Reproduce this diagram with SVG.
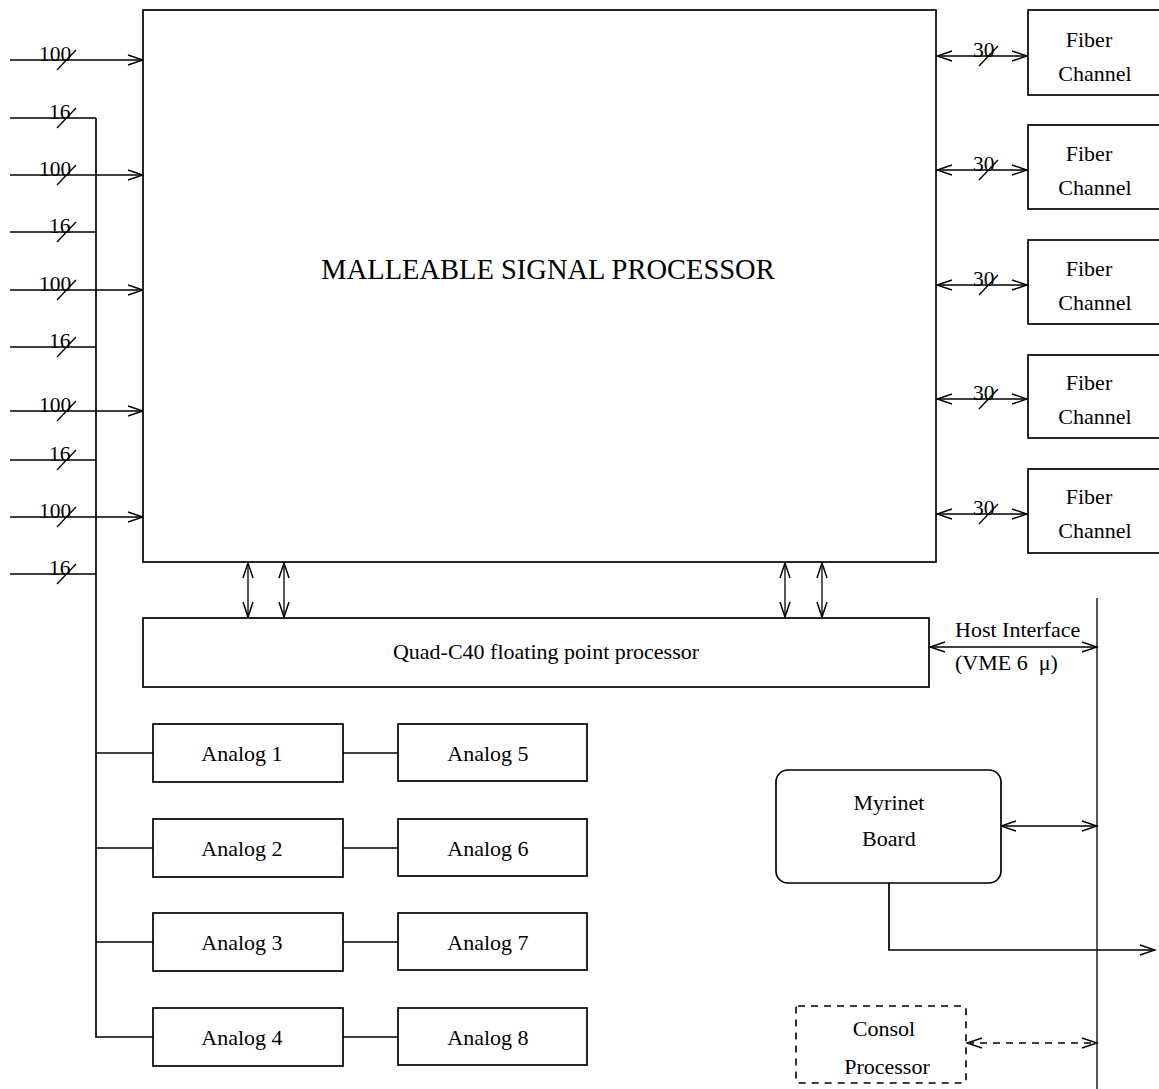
<svg xmlns="http://www.w3.org/2000/svg" width="1159" height="1089" viewBox="0 0 1159 1089">
  <style>
    .box { fill: #fff; stroke: #000; stroke-width: 1.7; }
    .dash { fill: none; stroke: #000; stroke-width: 1.6; stroke-dasharray: 7 6; }
    .ln { fill: none; stroke: #000; stroke-width: 1.7; }
    .thin { fill: none; stroke: #000; stroke-width: 1.3; }
    .t { font-family: "Liberation Serif", "Times New Roman", serif; fill: #000; }
    .lbl { font-size: 22px; }
    .num { font-size: 21.5px; }
    .mid { text-anchor: middle; }
  </style>
  <defs>
    <marker id="ah" markerUnits="userSpaceOnUse" markerWidth="18" markerHeight="12" viewBox="0 0 18 12" refX="16" refY="6" orient="auto-start-reverse">
      <path d="M1,1 L16,6 L1,11" fill="none" stroke="#000" stroke-width="1.5"/>
    </marker>
  </defs>

  <!-- connectors -->
  <g id="connectors">
    <!-- 100-bit inputs into the processor -->
    <line class="ln" x1="10" y1="60" x2="143" y2="60" marker-end="url(#ah)"/>
    <line class="ln" x1="10" y1="175" x2="143" y2="175" marker-end="url(#ah)"/>
    <line class="ln" x1="10" y1="290" x2="143" y2="290" marker-end="url(#ah)"/>
    <line class="ln" x1="10" y1="411" x2="143" y2="411" marker-end="url(#ah)"/>
    <line class="ln" x1="10" y1="517" x2="143" y2="517" marker-end="url(#ah)"/>
    <!-- 16-bit lines feeding the analog bus -->
    <line class="ln" x1="10" y1="118" x2="96" y2="118"/>
    <line class="ln" x1="10" y1="232" x2="96" y2="232"/>
    <line class="ln" x1="10" y1="347" x2="96" y2="347"/>
    <line class="ln" x1="10" y1="460" x2="96" y2="460"/>
    <line class="ln" x1="10" y1="574" x2="96" y2="574"/>
    <!-- analog bus -->
    <polyline class="ln" points="96,118 96,1037 153,1037"/>
    <line class="ln" x1="96" y1="753" x2="153" y2="753"/>
    <line class="ln" x1="96" y1="848" x2="153" y2="848"/>
    <line class="ln" x1="96" y1="942" x2="153" y2="942"/>
    <!-- analog pairs -->
    <line class="ln" x1="343" y1="753" x2="398" y2="753"/>
    <line class="ln" x1="343" y1="848" x2="398" y2="848"/>
    <line class="ln" x1="343" y1="942" x2="398" y2="942"/>
    <line class="ln" x1="343" y1="1037" x2="398" y2="1037"/>
    <!-- bus width ticks -->
    <g class="thin">
      <line x1="57" y1="70" x2="76" y2="50"/>
      <line x1="57" y1="185" x2="76" y2="165"/>
      <line x1="57" y1="300" x2="76" y2="280"/>
      <line x1="57" y1="421" x2="76" y2="401"/>
      <line x1="57" y1="527" x2="76" y2="507"/>
      <line x1="57" y1="128" x2="76" y2="108"/>
      <line x1="57" y1="242" x2="76" y2="222"/>
      <line x1="57" y1="357" x2="76" y2="337"/>
      <line x1="57" y1="470" x2="76" y2="450"/>
      <line x1="57" y1="584" x2="76" y2="564"/>
      <line x1="979" y1="66" x2="998" y2="46"/>
      <line x1="979" y1="180" x2="998" y2="160"/>
      <line x1="979" y1="295" x2="998" y2="275"/>
      <line x1="979" y1="409" x2="998" y2="389"/>
      <line x1="979" y1="524" x2="998" y2="504"/>
    </g>
    <g class="t num">
      <text x="39" y="61">100</text>
      <text x="39" y="176">100</text>
      <text x="39" y="291">100</text>
      <text x="39" y="412">100</text>
      <text x="39" y="518">100</text>
      <text x="49" y="119">16</text>
      <text x="49" y="233">16</text>
      <text x="49" y="348">16</text>
      <text x="49" y="461">16</text>
      <text x="49" y="575">16</text>
      <text x="973" y="57">30</text>
      <text x="973" y="171">30</text>
      <text x="973" y="286">30</text>
      <text x="973" y="400">30</text>
      <text x="973" y="515">30</text>
    </g>
    <!-- processor to fiber channels -->
    <line class="ln" x1="937" y1="56" x2="1027" y2="56" marker-start="url(#ah)" marker-end="url(#ah)"/>
    <line class="ln" x1="937" y1="170" x2="1027" y2="170" marker-start="url(#ah)" marker-end="url(#ah)"/>
    <line class="ln" x1="937" y1="285" x2="1027" y2="285" marker-start="url(#ah)" marker-end="url(#ah)"/>
    <line class="ln" x1="937" y1="399" x2="1027" y2="399" marker-start="url(#ah)" marker-end="url(#ah)"/>
    <line class="ln" x1="937" y1="514" x2="1027" y2="514" marker-start="url(#ah)" marker-end="url(#ah)"/>
    <!-- processor to Quad-C40 -->
    <line class="thin" x1="248" y1="563" x2="248" y2="617" marker-start="url(#ah)" marker-end="url(#ah)"/>
    <line class="thin" x1="284" y1="563" x2="284" y2="617" marker-start="url(#ah)" marker-end="url(#ah)"/>
    <line class="thin" x1="785" y1="563" x2="785" y2="617" marker-start="url(#ah)" marker-end="url(#ah)"/>
    <line class="thin" x1="822" y1="563" x2="822" y2="617" marker-start="url(#ah)" marker-end="url(#ah)"/>
    <!-- host bus -->
    <line class="thin" x1="1097" y1="598" x2="1097" y2="1089"/>
    <line class="ln" x1="930" y1="647" x2="1097" y2="647" marker-start="url(#ah)" marker-end="url(#ah)"/>
    <text class="t lbl" x="955" y="637">Host Interface</text>
    <text class="t lbl" x="955" y="670" xml:space="preserve">(VME 6  μ)</text>
    <line class="ln" x1="1001" y1="826" x2="1097" y2="826" marker-start="url(#ah)" marker-end="url(#ah)"/>
    <polyline class="ln" points="889,883 889,950 1155,950" marker-end="url(#ah)"/>
    <line class="dash" x1="967" y1="1043" x2="1097" y2="1043" marker-start="url(#ah)" marker-end="url(#ah)"/>
  </g>

  <!-- nodes -->
  <g id="msp">
    <rect class="box" x="143" y="10" width="793" height="552"/>
    <text class="t mid" x="548" y="279" font-size="28.5">MALLEABLE SIGNAL PROCESSOR</text>
  </g>
  <g id="fiber1">
    <rect class="box" x="1028" y="10" width="140" height="85"/>
    <text class="t lbl mid" x="1089" y="47">Fiber</text>
    <text class="t lbl mid" x="1095" y="81">Channel</text>
  </g>
  <g id="fiber2">
    <rect class="box" x="1028" y="125" width="140" height="84"/>
    <text class="t lbl mid" x="1089" y="161">Fiber</text>
    <text class="t lbl mid" x="1095" y="195">Channel</text>
  </g>
  <g id="fiber3">
    <rect class="box" x="1028" y="240" width="140" height="84"/>
    <text class="t lbl mid" x="1089" y="276">Fiber</text>
    <text class="t lbl mid" x="1095" y="310">Channel</text>
  </g>
  <g id="fiber4">
    <rect class="box" x="1028" y="355" width="140" height="83"/>
    <text class="t lbl mid" x="1089" y="390">Fiber</text>
    <text class="t lbl mid" x="1095" y="424">Channel</text>
  </g>
  <g id="fiber5">
    <rect class="box" x="1028" y="469" width="140" height="84"/>
    <text class="t lbl mid" x="1089" y="504">Fiber</text>
    <text class="t lbl mid" x="1095" y="538">Channel</text>
  </g>
  <g id="quad-c40">
    <rect class="box" x="143" y="618" width="786" height="69"/>
    <text class="t lbl mid" x="546" y="659">Quad-C40 floating point processor</text>
  </g>
  <g id="analog1">
    <rect class="box" x="153" y="724" width="190" height="58"/>
    <text class="t lbl mid" x="242" y="761">Analog 1</text>
  </g>
  <g id="analog2">
    <rect class="box" x="153" y="819" width="190" height="58"/>
    <text class="t lbl mid" x="242" y="856">Analog 2</text>
  </g>
  <g id="analog3">
    <rect class="box" x="153" y="913" width="190" height="58"/>
    <text class="t lbl mid" x="242" y="950">Analog 3</text>
  </g>
  <g id="analog4">
    <rect class="box" x="153" y="1008" width="190" height="58"/>
    <text class="t lbl mid" x="242" y="1045">Analog 4</text>
  </g>
  <g id="analog5">
    <rect class="box" x="398" y="724" width="189" height="57"/>
    <text class="t lbl mid" x="488" y="761">Analog 5</text>
  </g>
  <g id="analog6">
    <rect class="box" x="398" y="819" width="189" height="57"/>
    <text class="t lbl mid" x="488" y="856">Analog 6</text>
  </g>
  <g id="analog7">
    <rect class="box" x="398" y="913" width="189" height="57"/>
    <text class="t lbl mid" x="488" y="950">Analog 7</text>
  </g>
  <g id="analog8">
    <rect class="box" x="398" y="1008" width="189" height="57"/>
    <text class="t lbl mid" x="488" y="1045">Analog 8</text>
  </g>
  <g id="myrinet">
    <rect class="box" x="776" y="770" width="225" height="113" rx="12" ry="12"/>
    <text class="t lbl mid" x="889" y="810">Myrinet</text>
    <text class="t lbl mid" x="889" y="846">Board</text>
  </g>
  <g id="consol">
    <rect class="dash" x="796" y="1006" width="170" height="77" rx="2" ry="2"/>
    <text class="t lbl mid" x="884" y="1036">Consol</text>
    <text class="t lbl mid" x="887" y="1074">Processor</text>
  </g>
</svg>
